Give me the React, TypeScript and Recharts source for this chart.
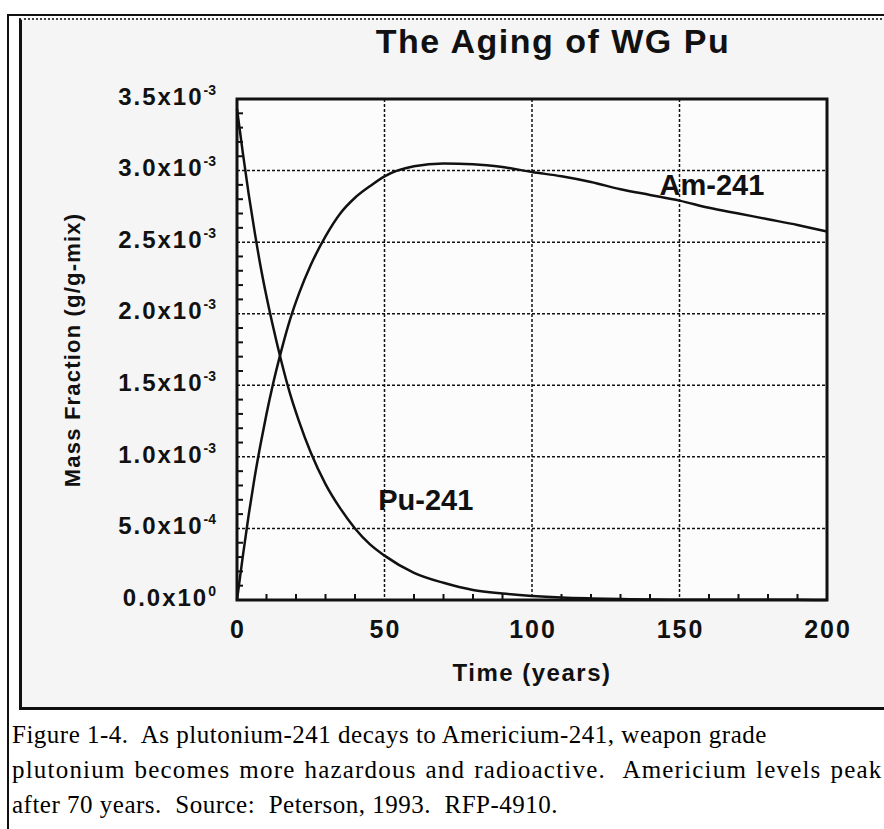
import React from "react";
import {
  ComposedChart,
  Line,
  Scatter,
  XAxis,
  YAxis,
  CartesianGrid,
  ReferenceArea,
  ReferenceDot,
} from "recharts";

// Time in years, mass fraction in units of 1e-3 g/g-mix
const YEARS = [0, 2, 4, 6, 8, 10, 12, 15, 18, 21, 25, 30, 35, 40, 45, 50, 60, 70, 80, 90, 100, 110, 120, 130, 140, 150, 160, 170, 180, 190, 200];
const PU241 = [3.43, 3.12, 2.83, 2.57, 2.33, 2.12, 1.93, 1.67, 1.44, 1.25, 1.03, 0.81, 0.64, 0.5, 0.39, 0.31, 0.19, 0.12, 0.07, 0.045, 0.028, 0.017, 0.011, 0.007, 0.004, 0.002, 0.002, 0.001, 0.001, 0.001, 0];
const AM241 = [0, 0.31, 0.6, 0.86, 1.09, 1.3, 1.49, 1.74, 1.96, 2.14, 2.34, 2.54, 2.7, 2.81, 2.89, 2.96, 3.03, 3.05, 3.045, 3.025, 2.99, 2.96, 2.92, 2.87, 2.83, 2.79, 2.74, 2.7, 2.66, 2.62, 2.575];

const X_TICKS = [0, 50, 100, 150, 200];
const X_MINOR = [10, 20, 30, 40, 60, 70, 80, 90, 110, 120, 130, 140, 160, 170, 180, 190];
const Y_TICKS = [0, 0.5, 1, 1.5, 2, 2.5, 3, 3.5];
const Y_MANTISSA = ["0.0x10", "5.0x10", "1.0x10", "1.5x10", "2.0x10", "2.5x10", "3.0x10", "3.5x10"];
const Y_EXPONENT = ["0", "-4", "-3", "-3", "-3", "-3", "-3", "-3"];
const Y_MINOR = [0.1, 0.2, 0.3, 0.4, 0.6, 0.7, 0.8, 0.9, 1.1, 1.2, 1.3, 1.4, 1.6, 1.7, 1.8, 1.9, 2.1, 2.2, 2.3, 2.4, 2.6, 2.7, 2.8, 2.9, 3.1, 3.2, 3.3, 3.4];

const TITLE = "The Aging of WG Pu";
const X_LABEL = "Time (years)";
const Y_LABEL = "Mass Fraction (g/g-mix)";
const CAPTION = [
  "Figure 1-4.  As plutonium-241 decays to Americium-241, weapon grade",
  "plutonium becomes more hazardous and radioactive.  Americium levels peak",
  "after 70 years.  Source:  Peterson, 1993.  RFP-4910.",
];
// the middle line is justified in the original
const CAPTION_LETTER_SPACING = [0.5, 1.2, 0.5];
const CAPTION_WORD_SPACING = [0, 1.5, 0];

const data = YEARS.map((t, i) => ({ t, pu: PU241[i], am: AM241[i] }));
const xMinor = X_MINOR.map((t) => ({ t, v: 0 }));
const yMinor = Y_MINOR.map((v) => ({ t: 0, v }));

const INK = "#111";
const SANS = "'Liberation Sans', Arial, sans-serif";

function XTick({ x, y, payload }: any) {
  return (
    <text x={x + 1} y={y + 38} textAnchor="middle" fontFamily={SANS} fontWeight={700} fontSize={25} letterSpacing={2} fill={INK}>
      {payload.value}
    </text>
  );
}

function YTick({ x, y, payload }: any) {
  const i = Y_TICKS.indexOf(payload.value);
  return (
    <text x={x} y={y} dy="0.36em" textAnchor="end" fontFamily={SANS} fontWeight={700} fill={INK}>
      <tspan fontSize={24} letterSpacing={2}>{Y_MANTISSA[i]}</tspan>
      <tspan fontSize={14} dy={-10}>{Y_EXPONENT[i]}</tspan>
    </text>
  );
}

const xTickMark = (p: any) => <line x1={p.cx} x2={p.cx} y1={p.cy} y2={p.cy - 6} stroke={INK} strokeWidth={2} />;
const yTickMark = (p: any) => <line x1={p.cx} x2={p.cx + 6} y1={p.cy} y2={p.cy} stroke={INK} strokeWidth={2} />;

export default function App() {
  return (
    <div style={{ position: "absolute", left: 0, top: 0, width: 884, height: 829, background: "#fff", overflow: "hidden" }}>
      <div style={{ position: "absolute", left: 7, top: 14, width: 900, height: 830, borderTop: `2px solid ${INK}`, borderLeft: `2px solid ${INK}` }} />
      <div
        style={{
          position: "absolute", left: 19, top: 18, width: 900, height: 687,
          borderLeft: `3px solid ${INK}`, borderBottom: `3px solid ${INK}`, borderTop: "2px dotted #444",
          background: "#f5f5f5",
        }}
      />
      <div
        style={{
          position: "absolute", left: 353, top: 24, width: 400, textAlign: "center",
          fontFamily: SANS, fontWeight: 700, fontSize: 34, lineHeight: "34px", letterSpacing: 1.5, color: INK,
        }}
      >
        {TITLE}
      </div>
      <div style={{ position: "absolute", left: 0, top: 0 }}>
        <ComposedChart width={884} height={720} data={data} margin={{ top: 99, right: 57, bottom: 0, left: 0 }}>
          <CartesianGrid stroke={INK} strokeWidth={1.5} strokeDasharray="3 2" fill="#fcfcfc" />
          <XAxis
            dataKey="t" type="number" domain={[0, 200]} ticks={X_TICKS} interval={0} height={120}
            axisLine={false} tickLine={false} tickSize={0} tickMargin={0} tick={<XTick />}
            label={{
              content: () => (
                <text x={532} y={681} textAnchor="middle" fontFamily={SANS} fontWeight={700} fontSize={24} letterSpacing={1.5} fill={INK}>
                  {X_LABEL}
                </text>
              ),
            }}
          />
          <YAxis
            type="number" domain={[0, 3.5]} ticks={Y_TICKS} interval={0} width={237}
            axisLine={false} tickLine={false} tickSize={0} tickMargin={21} tick={<YTick />}
            label={{
              content: () => (
                <text x={72} y={350} transform="rotate(-90 72 350)" textAnchor="middle" dominantBaseline="central"
                  fontFamily={SANS} fontWeight={700} fontSize={22} letterSpacing={1.2} fill={INK}>
                  {Y_LABEL}
                </text>
              ),
            }}
          />
          <Line type="monotone" dataKey="pu" stroke={INK} strokeWidth={2.5} dot={false} isAnimationActive={false} />
          <Line type="monotone" dataKey="am" stroke={INK} strokeWidth={2.5} dot={false} isAnimationActive={false} />
          <Scatter data={xMinor} dataKey="v" shape={xTickMark} isAnimationActive={false} />
          <Scatter data={yMinor} dataKey="v" shape={yTickMark} isAnimationActive={false} />
          <ReferenceArea x1={0} x2={200} y1={0} y2={3.5} fill="none" stroke={INK} strokeWidth={3} />
          <ReferenceDot
            x={161} y={2.9} r={0} fill="none" stroke="none"
            label={{ value: "Am-241", position: "center", fontSize: 29, fontWeight: 700, fontFamily: SANS, fill: INK }}
          />
          <ReferenceDot
            x={64} y={0.7} r={0} fill="none" stroke="none"
            label={{ value: "Pu-241", position: "center", fontSize: 29, fontWeight: 700, fontFamily: SANS, fill: INK }}
          />
        </ComposedChart>
      </div>
      <div
        style={{
          position: "absolute", left: 12, top: 717, fontFamily: "'Liberation Serif', 'Times New Roman', serif",
          fontSize: 25, lineHeight: "35px", color: "#000", whiteSpace: "pre",
        }}
      >
        {CAPTION.map((line, i) => (
          <div key={line} style={{ letterSpacing: CAPTION_LETTER_SPACING[i], wordSpacing: CAPTION_WORD_SPACING[i] }}>{line}</div>
        ))}
      </div>
    </div>
  );
}
